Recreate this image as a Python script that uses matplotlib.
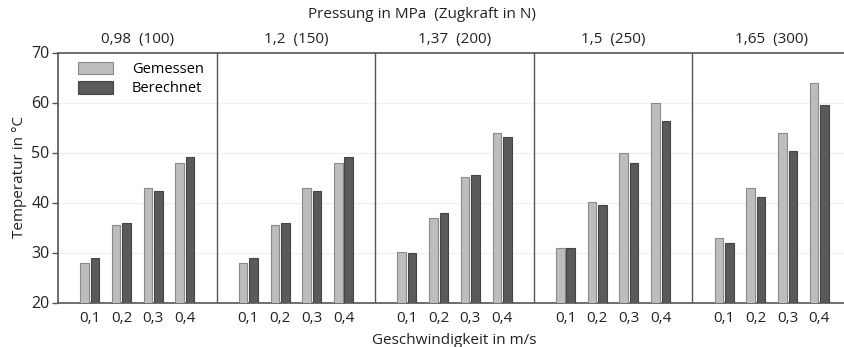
import matplotlib
matplotlib.use("Agg")
import matplotlib.pyplot as plt
import numpy as np

plt.rcParams['font.family'] = ['Open Sans', 'DejaVu Sans']

panels = ["0,98  (100)", "1,2  (150)", "1,37  (200)", "1,5  (250)", "1,65  (300)"]
speeds = ["0,1", "0,2", "0,3", "0,4"]
gemessen = [
    [28.0, 35.6, 43.0, 48.0],
    [28.0, 35.6, 43.0, 48.0],
    [30.1, 37.0, 45.2, 54.0],
    [31.0, 40.1, 50.0, 60.0],
    [33.0, 43.0, 54.0, 64.0],
]
berechnet = [
    [29.0, 35.9, 42.3, 49.2],
    [29.0, 35.9, 42.3, 49.2],
    [30.0, 38.0, 45.6, 53.2],
    [30.9, 39.6, 48.0, 56.4],
    [31.9, 41.2, 50.4, 59.6],
]

W, H = 844, 347
fig = plt.figure(figsize=(W/100, H/100), dpi=100)
left, right, top, bottom = 58, 851, 52.5, 302.5
ax = fig.add_axes([left/W, 1-bottom/H, (right-left)/W, (bottom-top)/H])

light = "#bdbdbd"; dark = "#5a5a5a"
bw = 0.27; off = 0.165
xs, labels = [], []
for p in range(len(panels)):
    base = 5*p + np.arange(1, 5)
    ax.bar(base - off, gemessen[p], bw, color=light, edgecolor="#8a8a8a", linewidth=0.8,
           label="Gemessen" if p == 0 else None, zorder=3)
    ax.bar(base + off, berechnet[p], bw, color=dark, edgecolor="#444444", linewidth=0.8,
           label="Berechnet" if p == 0 else None, zorder=3)
    xs.extend(base); labels.extend(speeds)
    if p > 0:
        ax.axvline(5*p, color="#555555", linewidth=1.0, zorder=4)
    ax.text(5*p + 2.5, 71.0, panels[p], ha="center", va="bottom", fontsize=11, color="#222222")

ax.set_xlim(0, 25)
ax.set_ylim(20, 70)
ax.set_yticks([20, 30, 40, 50, 60, 70])
ax.set_xticks(xs)
ax.set_xticklabels(labels)
ax.tick_params(axis="x", length=0, labelsize=11, colors="#222222", pad=6)
ax.tick_params(axis="y", length=4, width=1, color="#555555", labelsize=11.5, labelcolor="#222222", pad=2)
for y in [30, 40, 50, 60]:
    ax.axhline(y, color="#f0f0f0", linewidth=1.0, zorder=1)
for s in ["left", "bottom", "top"]:
    ax.spines[s].set_color("#555555"); ax.spines[s].set_linewidth(1.2)
ax.spines["right"].set_visible(False)

ax.set_xlabel("Geschwindigkeit in m/s", fontsize=11, color="#222222", labelpad=5)
ax.set_ylabel("Temperatur in °C", fontsize=11, color="#222222", labelpad=3)
fig.text(0.5, 1-15/H, "Pressung in MPa  (Zugkraft in N)", ha="center", va="center", fontsize=11, color="#222222")

leg = ax.legend(loc="upper left", frameon=False, fontsize=10.5, handlelength=2.4, handleheight=0.95,
                bbox_to_anchor=(20/793, 1-9/250), borderaxespad=0, borderpad=0,
                handletextpad=1.3, labelspacing=0.3)

fig.savefig("out.png", dpi=100)
